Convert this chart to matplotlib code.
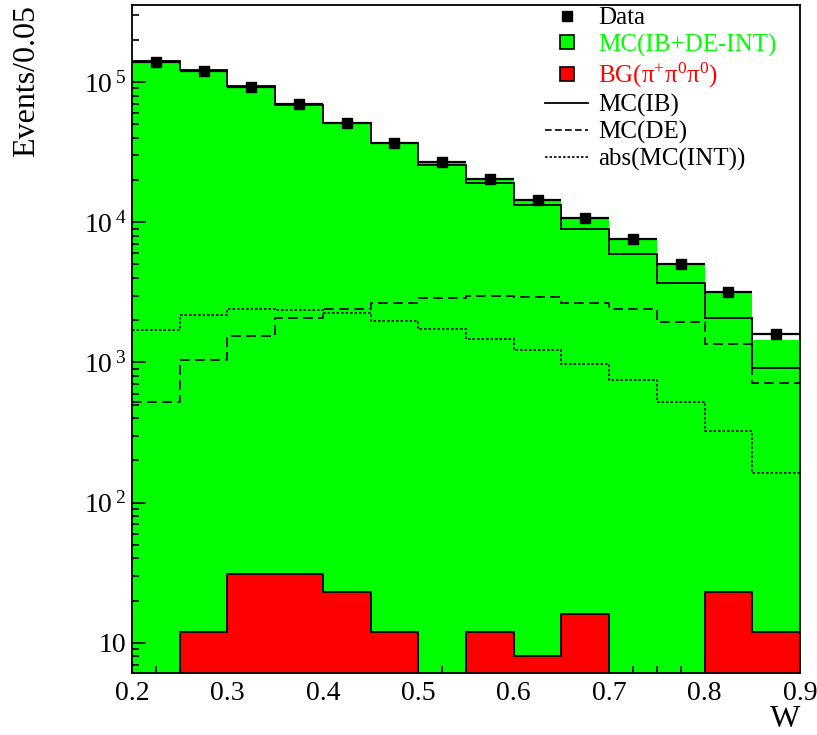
import numpy as np
import matplotlib
matplotlib.use("Agg")
import matplotlib.pyplot as plt
from matplotlib.lines import Line2D
from matplotlib.ticker import MultipleLocator, LogLocator, FuncFormatter, NullFormatter

plt.rcParams['font.family'] = ['Liberation Serif', 'DejaVu Serif']
plt.rcParams['mathtext.fontset'] = 'custom'
plt.rcParams['mathtext.rm'] = 'Liberation Serif'
plt.rcParams['mathtext.it'] = 'Liberation Serif:italic'

# W bins of width 0.05
edges = np.round(np.arange(0.20, 0.9001, 0.05), 3)
centers = 0.5 * (edges[:-1] + edges[1:])

# Events per bin
data = [1.38e5, 1.20e5, 9.2e4, 6.93e4, 5.09e4, 3.70e4, 2.70e4,
        2.03e4, 1.45e4, 1.07e4, 7650, 5075, 3180, 1585]
mc_total = [1.39e5, 1.20e5, 9.2e4, 6.85e4, 5.09e4, 3.68e4, 2.72e4,
            2.03e4, 1.45e4, 1.09e4, 7650, 5075, 3180, 1453]
mc_ib = [1.41e5, 1.22e5, 9.3e4, 6.90e4, 5.08e4, 3.66e4, 2.58e4,
         1.91e4, 1.32e4, 9020, 5907, 3710, 2070, 916]
mc_de = [526, 1033, 1534, 2073, 2419, 2668, 2878,
         2961, 2930, 2668, 2419, 1931, 1360, 712]
mc_int_abs = [1693, 2191, 2419, 2352, 2249, 1972, 1740,
              1460, 1232, 980, 752, 526, 327, 163]
bg = [0, 12, 31, 31, 23, 12, 0, 12, 8, 16, 0, 0, 23, 12]

GREEN = '#00ff00'
RED = '#ff0000'

fig = plt.figure(figsize=(8.17, 7.35), dpi=100)
ax = fig.add_axes([132 / 817, 1 - 673 / 735, 668 / 817, 668.5 / 735])
ax.set_yscale('log')

# stacked MC fill and background
ax.stairs(mc_total, edges, fill=True, baseline=1, color=GREEN, lw=0, zorder=1)
ax.stairs(bg, edges, fill=True, baseline=1, facecolor=RED, edgecolor='none', zorder=2)
ax.stairs(bg, edges, baseline=None, color='k', lw=1.3, zorder=2.2)

# MC components
ax.stairs(mc_ib, edges, baseline=None, color='k', lw=1.3, ls='-', zorder=3)
ax.stairs(mc_de, edges, baseline=None, color='k', lw=1.2, ls=(0, (6, 3)), zorder=3)
ax.stairs(mc_int_abs, edges, baseline=None, color='k', lw=1.2, ls=(0, (1.5, 1.2)), zorder=3)

# data points
ax.errorbar(centers, data, xerr=0.025, fmt='s', color='k', ms=7,
            elinewidth=1.6, capsize=0, zorder=4)

ax.set_xlim(0.2, 0.9)
ax.set_ylim(6.1, 3.57e5)

ax.xaxis.set_major_locator(MultipleLocator(0.1))
ax.xaxis.set_minor_locator(MultipleLocator(0.025))
ax.xaxis.set_major_formatter(FuncFormatter(lambda v, p: f'{v:.1f}'))
ax.yaxis.set_major_locator(LogLocator(base=10, numticks=10))
ax.yaxis.set_minor_locator(LogLocator(base=10, subs=np.arange(2, 10), numticks=20))
ax.yaxis.set_minor_formatter(NullFormatter())


def ylab(v, p):
    n = int(round(np.log10(v)))
    if n == 1:
        return '10'
    return r'$\mathregular{10\,{}^{%d}}$' % n


ax.yaxis.set_major_formatter(FuncFormatter(ylab))

ax.tick_params(which='both', direction='in', top=False, right=False,
               width=1.2, labelsize=20, colors='k')
ax.tick_params(which='major', length=10)
ax.tick_params(which='minor', length=5)
ax.tick_params(axis='x', pad=6)
ax.tick_params(axis='y', pad=4)
for s in ax.spines.values():
    s.set_linewidth(1.3)
    s.set_zorder(5)

fig.text(27 / 817, 1 - 5 / 735, 'Events/0.05', rotation=90, ha='center',
         va='top', fontsize=23)
fig.text(800 / 817, 1 / 735, 'W', ha='right', va='bottom', fontsize=23)

handles = [
    Line2D([], [], marker='s', color='k', ls='none', ms=7),
    Line2D([], [], marker='s', ls='none', ms=10, markerfacecolor=GREEN,
           markeredgecolor='k', markeredgewidth=1.2),
    Line2D([], [], marker='s', ls='none', ms=10, markerfacecolor=RED,
           markeredgecolor='k', markeredgewidth=1.2),
    Line2D([], [], color='k', lw=1.3),
    Line2D([], [], color='k', lw=1.2, ls=(0, (4, 2))),
    Line2D([], [], color='k', lw=1.2, ls=(0, (1.5, 1.2))),
]
labels = ['Data', 'MC(IB+DE-INT)', r'BG($\mathregular{\pi^{+}\pi^{0}\pi^{0}}$)',
          'MC(IB)', 'MC(DE)', 'abs(MC(INT))']
leg = ax.legend(handles, labels, loc='upper left',
                bbox_to_anchor=(545 / 817, 1 - 7 / 735),
                bbox_transform=fig.transFigure, frameon=False, fontsize=18,
                borderpad=0, borderaxespad=0, handlelength=1.72,
                handletextpad=0.4, labelspacing=0.16)
for t, c in zip(leg.get_texts(), ['k', GREEN, RED, 'k', 'k', 'k']):
    t.set_color(c)

fig.savefig('out.png', dpi=100)
